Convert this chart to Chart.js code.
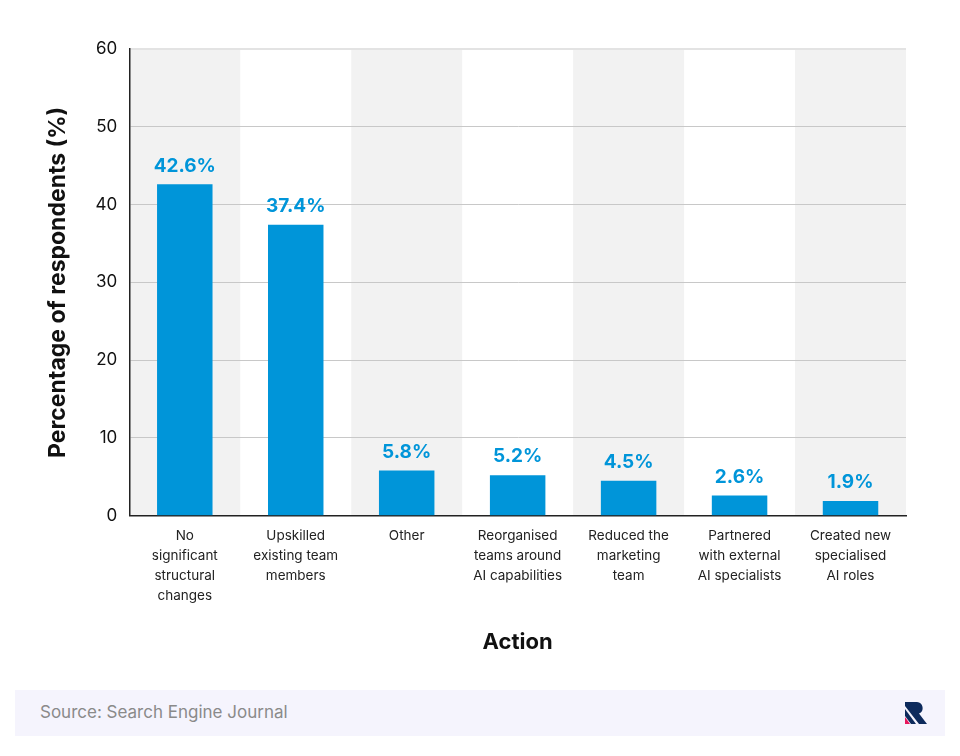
<!DOCTYPE html>
<html>
<head>
<meta charset="utf-8">
<script src="https://cdn.jsdelivr.net/npm/chart.js@4.4.1/dist/chart.umd.min.js"></script>
<style>
  html, body { margin: 0; padding: 0; background: #fff; }
  body { width: 960px; height: 756px; position: relative; overflow: hidden; font-family: "Inter", "Open Sans", sans-serif; }
  #wrap { position: absolute; left: 0; top: 0; width: 960px; height: 680px; }
  .footer { position: absolute; left: 15px; top: 690px; width: 930px; height: 46px; background: #f5f4fd; }
  .footer span { position: absolute; left: 25px; top: 12px; font-size: 17px; color: #8a8a8a; }
  .footer svg { position: absolute; right: 17px; top: 11px; }
</style>
</head>
<body>
<div id="wrap"><canvas id="chart"></canvas></div>
<div class="footer">
  <span>Source: Search Engine Journal</span>
  <svg width="24" height="24" viewBox="0 0 24 24">
    <path d="M1 1 H13 A6 6 0 0 1 15 12.5 L23 23 H15 L1 5 Z" fill="#0d2a5c"/>
    <path d="M1 8 L12 23 H7 L1 15 Z" fill="#0d2a5c"/>
    <path d="M1 16 L6 23 H1 Z" fill="#e8175d"/>
  </svg>
</div>
<script>
// données du graphique
const categories = [
  ["No", "significant", "structural", "changes"],
  ["Upskilled", "existing team", "members"],
  ["Other"],
  ["Reorganised", "teams around", "AI capabilities"],
  ["Reduced the", "marketing", "team"],
  ["Partnered", "with external", "AI specialists"],
  ["Created new", "specialised", "AI roles"]
];
const percentages = [42.6, 37.4, 5.8, 5.2, 4.5, 2.6, 1.9];
const yTicks = [0, 10, 20, 30, 40, 50, 60];

const FONT = '"Inter", "Open Sans", sans-serif';
const BLUE = '#0095d9';

// bandes grises alternées derrière les barres
const stripesPlugin = {
    id: 'stripes',
    beforeDraw(chart) {
        const { ctx, chartArea, scales } = chart;
        const x = scales.x;
        const step = x.getPixelForValue(1) - x.getPixelForValue(0);
        ctx.save();
        ctx.fillStyle = '#f2f2f2';
        categories.forEach((c, i) => {
            if (i % 2 !== 0) return;
            const cx = x.getPixelForValue(i);
            ctx.fillRect(cx - step / 2, chartArea.top, step, chartArea.bottom - chartArea.top);
        });
        ctx.restore();
    }
};

// étiquettes de valeur au-dessus des barres
const valueLabels = {
    id: 'valueLabels',
    afterDatasetsDraw(chart) {
        const { ctx } = chart;
        const meta = chart.getDatasetMeta(0);
        ctx.save();
        ctx.fillStyle = BLUE;
        ctx.font = `bold 19px ${FONT}`;
        ctx.textAlign = 'center';
        ctx.textBaseline = 'bottom';
        meta.data.forEach((bar, i) => {
            ctx.fillText(percentages[i].toFixed(1) + '%', bar.x, bar.y - 9);
        });
        ctx.restore();
    }
};

new Chart(document.getElementById('chart'), {
    type: 'bar',
    data: {
        labels: categories,
        datasets: [{
            data: percentages,
            backgroundColor: BLUE,
            categoryPercentage: 1,
            barPercentage: 0.5
        }]
    },
    options: {
        responsive: true,
        maintainAspectRatio: false,
        animation: false,
        layout: { padding: { top: 49, right: 54, left: 40, bottom: 20 } },
        plugins: { legend: { display: false }, tooltip: { enabled: false } },
        scales: {
            x: {
                grid: { display: false },
                border: { display: true, color: '#222', width: 1.5 },
                ticks: {
                    color: '#222',
                    padding: 2,
                    maxRotation: 0,
                    autoSkip: false,
                    font: { family: FONT, size: 13.5, lineHeight: 1.48 }
                },
                title: {
                    display: true,
                    text: 'Action',
                    color: '#111',
                    font: { family: FONT, size: 22, weight: 'bold' },
                    padding: { top: 22 }
                }
            },
            y: {
                min: 0,
                max: 60,
                afterBuildTicks(axis) { axis.ticks = yTicks.map(v => ({ value: v })); },
                grid: {
                    color: ctx => ctx.tick && ctx.tick.value === 60 ? '#e3e3e3' : '#c8c8c8',
                    lineWidth: ctx => ctx.tick && ctx.tick.value === 60 ? 2 : 1,
                    drawTicks: false
                },
                border: { display: true, color: '#222', width: 1.5 },
                ticks: {
                    color: '#111',
                    padding: 12,
                    font: { family: FONT, size: 17 }
                },
                title: {
                    display: true,
                    text: 'Percentage of respondents (%)',
                    color: '#111',
                    font: { family: FONT, size: 23, weight: 'bold' },
                    padding: { bottom: 12 }
                }
            }
        }
    },
    plugins: [stripesPlugin, valueLabels]
});
</script>
</body>
</html>
